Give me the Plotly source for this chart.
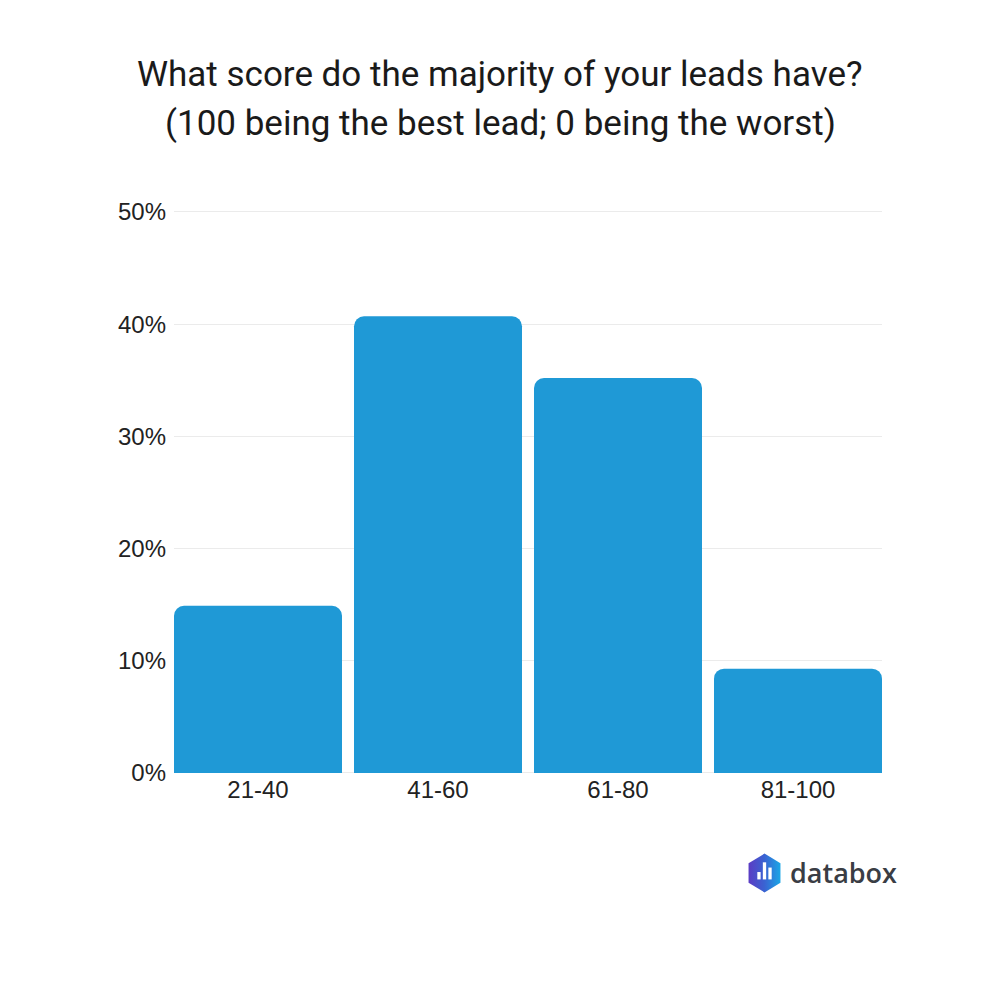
import plotly.graph_objects as go

categories = ["21-40", "41-60", "61-80", "81-100"]
values = [0.149, 0.407, 0.352, 0.093]
y_ticks = [0, 0.1, 0.2, 0.3, 0.4, 0.5]
y_tick_labels = ["0%", "10%", "20%", "30%", "40%", "50%"]

title_line1 = "What score do the majority of your leads have?"
title_line2 = "(100 being the best lead; 0 being the worst)"
brand = "databox"

BAR = "#1f99d6"
W, H = 1000, 1000
OFF = 8  # page body margin offset

# plot area in pixels (target screenshot coords)
Y_TOP = 0.502
L, R, B = 174, 882, 773
T = B - (B - 212) * Y_TOP / 0.5
GAP = 12 / 180.0

fig = go.Figure()
fig.add_trace(go.Bar(
    x=categories, y=values,
    marker=dict(color=BAR, cornerradius=10, line=dict(width=0)),
    hoverinfo="skip",
))

# logo icon (hexagon with gradient) on its own axes
hex_x = [0, 0.866, 0.866, 0, -0.866, -0.866, 0]
hex_y = [1, 0.5, -0.5, -1, -0.5, 0.5, 1]
fig.add_trace(go.Scatter(
    x=hex_x, y=hex_y, xaxis="x2", yaxis="y2", mode="lines",
    line=dict(width=0, color="rgba(0,0,0,0)"),
    fill="toself",
    fillgradient=dict(type="horizontal",
                      colorscale=[[0, "#5b3cc4"], [0.5, "#3a63d2"], [1, "#1aa6e6"]]),
    hoverinfo="skip", showlegend=False,
))
for bx, top in [(-0.3, 0.05), (0.0, 0.55), (0.3, 0.28)]:
    fig.add_shape(type="rect", xref="x2", yref="y2",
                  x0=bx - 0.09, x1=bx + 0.09, y0=-0.33, y1=top,
                  fillcolor="white", line=dict(width=0))

def px_x(p):
    return (p - OFF) / W

def px_y(p):
    return 1 - (p - OFF) / H

n = len(categories)
fig.update_layout(
    width=W, height=H,
    margin=dict(l=0, r=0, t=0, b=0, autoexpand=False),
    paper_bgcolor="white", plot_bgcolor="white",
    showlegend=False,
    bargap=GAP,
    xaxis=dict(domain=[px_x(L), px_x(R)], range=[-0.5 + GAP / 2, n - 0.5 - GAP / 2],
               showgrid=False, showline=False,
               zeroline=False, ticks="", automargin=False,
               tickfont=dict(family="Liberation Sans, Arial", size=24, color="#222222"),
               ticklabelstandoff=0),
    yaxis=dict(domain=[px_y(B), px_y(T)], range=[0, Y_TOP], tickvals=y_ticks,
               ticktext=y_tick_labels, showgrid=True, gridcolor="#ebebeb",
               gridwidth=1, zeroline=True, zerolinecolor="#ebebeb", zerolinewidth=1,
               showline=False, ticks="", automargin=False,
               tickfont=dict(family="Liberation Sans, Arial", size=24, color="#222222"),
               ticklabelstandoff=7),
    xaxis2=dict(domain=[px_x(747), px_x(782)], range=[-0.95, 0.95], visible=False,
                fixedrange=True),
    yaxis2=dict(domain=[px_y(893), px_y(853)], range=[-1.03, 1.03], visible=False,
                fixedrange=True),
    annotations=[
        dict(text=title_line1, xref="paper", yref="paper", x=px_x(500), y=px_y(75),
             xanchor="center", yanchor="middle", showarrow=False,
             font=dict(family="Roboto", size=35, color="#1a1a1a")),
        dict(text=title_line2, xref="paper", yref="paper", x=px_x(500), y=px_y(124),
             xanchor="center", yanchor="middle", showarrow=False,
             font=dict(family="Roboto", size=35, color="#1a1a1a")),
        dict(text=brand, xref="paper", yref="paper", x=px_x(788), y=px_y(872),
             xanchor="left", yanchor="middle", showarrow=False,
             font=dict(family="Open Sans", size=27, color="#3a3d44", weight=600)),
    ],
)

fig.write_html("out.html")
